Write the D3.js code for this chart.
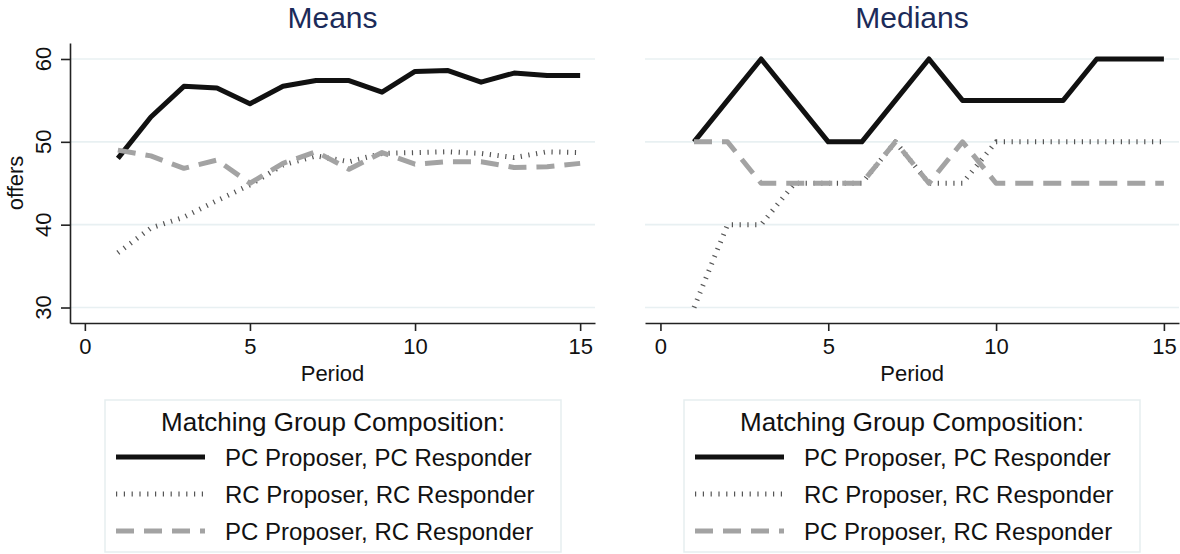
<!DOCTYPE html>
<html>
<head>
<meta charset="utf-8">
<script src="https://cdn.jsdelivr.net/npm/d3@7"></script>
<style>
  html, body { margin: 0; padding: 0; background: #fff; }
  svg { display: block; font-family: "Liberation Sans", Arial, Helvetica, sans-serif; }
</style>
</head>
<body>
<svg id="chart" width="1180" height="554"></svg>
<script>
// ---- data ----
const periods = [1, 2, 3, 4, 5, 6, 7, 8, 9, 10, 11, 12, 13, 14, 15];
const xTicks = [0, 5, 10, 15];
const yTicks = [30, 40, 50, 60];
const seriesNames = ["PC Proposer, PC Responder", "RC Proposer, RC Responder", "PC Proposer, RC Responder"];
const panelTitles = ["Means", "Medians"];
const legendTitle = "Matching Group Composition:";
const xTitle = "Period";
const yTitle = "offers";

const meansPCPC = [48.0, 53.0, 56.7, 56.5, 54.6, 56.7, 57.4, 57.4, 56.0, 58.5, 58.6, 57.2, 58.3, 58.0, 58.0];
const meansRCRC = [36.6, 39.6, 40.9, 42.9, 44.8, 47.2, 48.3, 47.6, 48.6, 48.7, 48.8, 48.6, 48.1, 48.8, 48.7];
const meansPCRC = [49.0, 48.3, 46.8, 47.8, 45.0, 47.4, 48.8, 46.7, 48.7, 47.3, 47.6, 47.6, 46.9, 47.0, 47.4];

const mediansPCPC = [50, 55, 60, 55, 50, 50, 55, 60, 55, 55, 55, 55, 60, 60, 60];
const mediansRCRC = [30, 40, 40, 45, 45, 45, 50, 45, 45, 50, 50, 50, 50, 50, 50];
const mediansPCRC = [50, 50, 45, 45, 45, 45, 50, 45, 50, 45, 45, 45, 45, 45, 45];

// ---- styles ----
const styles = [
  { color: "#111111", width: 5, dash: null },
  { color: "#555555", width: 5, dash: "1.2,6.6" },
  { color: "#a3a3a3", width: 5, dash: "18,10" }
];
const fontTick = 22, fontTitle = 30, fontLegTitle = 26, fontLeg = 24;
const titleColor = "#1c2b59";
const gridColor = "#e8f0f2";
const axisColor = "#222";

const svg = d3.select("#chart");

const panels = [
  { title: panelTitles[0], data: [meansPCPC, meansRCRC, meansPCRC], left: 70, right: 595, xdom: [-0.45, 15.45], yAxis: true, legX: 105 },
  { title: panelTitles[1], data: [mediansPCPC, mediansRCRC, mediansPCRC], left: 645, right: 1179, xdom: [-0.46, 15.45], yAxis: false, legX: 684 }
];
const plotTop = 43, plotBottom = 323;
const yDom = [28.13, 61.93];

panels.forEach(p => {
  const g = svg.append("g");
  const x = d3.scaleLinear().domain(p.xdom).range([p.left, p.right]);
  const y = d3.scaleLinear().domain(yDom).range([plotBottom, plotTop]);
  const cx = (x(0) + x(15)) / 2;

  // gridlines
  g.append("g").selectAll("line").data(yTicks).join("line")
    .attr("x1", p.left).attr("x2", p.right)
    .attr("y1", d => y(d)).attr("y2", d => y(d))
    .attr("stroke", gridColor).attr("stroke-width", 1.6);

  // x axis
  const xa = g.append("g").attr("transform", `translate(0,${plotBottom})`)
    .call(d3.axisBottom(x).tickValues(xTicks).tickSize(8).tickSizeOuter(0).tickPadding(7));
  xa.select(".domain").attr("stroke", axisColor).attr("stroke-width", 1.6);
  xa.selectAll(".tick line").attr("stroke", axisColor).attr("stroke-width", 1.6);
  xa.selectAll(".tick text").attr("font-size", fontTick).attr("fill", "#111")
    .attr("font-family", "Liberation Sans, Arial, sans-serif");

  g.append("text").attr("x", cx).attr("y", 381).attr("text-anchor", "middle")
    .attr("font-size", fontTick).attr("fill", "#111").text(xTitle);

  // y axis
  if (p.yAxis) {
    const ya = g.append("g").attr("transform", `translate(${p.left},0)`)
      .call(d3.axisLeft(y).tickValues(yTicks).tickSize(9).tickSizeOuter(0));
    ya.select(".domain").attr("stroke", axisColor).attr("stroke-width", 1.6);
    ya.selectAll(".tick line").attr("stroke", axisColor).attr("stroke-width", 1.6);
    ya.selectAll(".tick text").remove();
    g.append("g").selectAll("text").data(yTicks).join("text")
      .attr("transform", d => `translate(${p.left - 19},${y(d)}) rotate(-90)`)
      .attr("text-anchor", "middle").attr("font-size", fontTick).attr("fill", "#111")
      .text(d => d);
    g.append("text")
      .attr("transform", `translate(23,${(plotTop + plotBottom) / 2}) rotate(-90)`)
      .attr("text-anchor", "middle").attr("font-size", fontTick).attr("fill", "#111")
      .text(yTitle);
  }

  // title
  g.append("text").attr("x", (p.left + p.right) / 2).attr("y", 28).attr("text-anchor", "middle")
    .attr("font-size", fontTitle).attr("fill", titleColor).text(p.title);

  // lines
  const line = d3.line().x((d, i) => x(periods[i])).y(d => y(d));
  p.data.forEach((vals, k) => {
    const s = styles[k];
    g.append("path").datum(vals).attr("d", line)
      .attr("fill", "none").attr("stroke", s.color).attr("stroke-width", s.width)
      .attr("stroke-linejoin", "round")
      .attr("stroke-dasharray", s.dash);
  });

  // legend
  const lx = p.legX, ly = 400, lw = 456, lh = 152;
  const lg = g.append("g");
  lg.append("rect").attr("x", lx).attr("y", ly).attr("width", lw).attr("height", lh)
    .attr("fill", "#fff").attr("stroke", "#e6eeef").attr("stroke-width", 1.5);
  lg.append("text").attr("x", lx + lw / 2).attr("y", 431).attr("text-anchor", "middle")
    .attr("font-size", fontLegTitle).attr("fill", "#111").text(legendTitle);
  const rowY = [457, 494, 531];
  seriesNames.forEach((name, k) => {
    const s = styles[k];
    lg.append("line").attr("x1", lx + 11).attr("x2", lx + 100)
      .attr("y1", rowY[k]).attr("y2", rowY[k])
      .attr("stroke", s.color).attr("stroke-width", s.width).attr("stroke-dasharray", s.dash);
    lg.append("text").attr("x", lx + 120).attr("y", rowY[k] + 9)
      .attr("font-size", fontLeg).attr("fill", "#111").text(name);
  });
});
</script>
</body>
</html>
